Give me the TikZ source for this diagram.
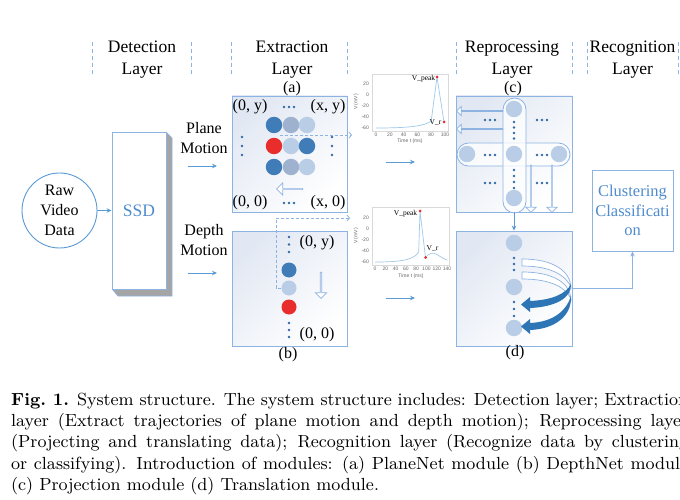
\documentclass[tikz,border=0pt]{standalone}
\usepackage{fontspec}
\usepackage{graphicx}
\newfontfamily\tnr{Liberation Serif}
\newfontfamily\plotf{Liberation Sans}
\usetikzlibrary{shapes.arrows,arrows.meta,shapes.misc}
\definecolor{lineblue}{RGB}{141,179,226}
\definecolor{arrblue}{RGB}{91,155,213}
\definecolor{txtblue}{RGB}{80,140,205}
\definecolor{darkc}{RGB}{64,124,184}
\definecolor{midc}{RGB}{158,177,207}
\definecolor{lightc}{RGB}{186,205,230}
\definecolor{redc}{RGB}{233,45,45}
\definecolor{dotc}{RGB}{50,105,165}
\definecolor{arcc}{RGB}{46,117,182}
\definecolor{shadowc}{RGB}{165,165,165}
\definecolor{boxfill}{RGB}{226,232,243}
\definecolor{plotc}{RGB}{160,200,232}
\newcommand\hdotsat[2]{\foreach \k in {-5,0,5}{\fill[dotc] (#1+\k,#2) circle (1.3);}}
\newcommand\vdotsat[2]{\foreach \yy in {#2}{\fill[dotc] (#1,\yy) circle (1.3);}}
\tikzset{
  hdr/.style={font=\tnr\fontsize{17.5}{22}\selectfont, align=center, inner sep=0},
  lbl/.style={font=\tnr\fontsize{16}{20}\selectfont, align=center, inner sep=0},
  sepline/.style={draw=lineblue, line width=0.8, dash pattern=on 4pt off 3pt},
  panel/.style={draw=lineblue, line width=0.9, top color=boxfill, bottom color=white, shading angle=45, inner sep=0},
  flow/.style={draw=arrblue, line width=0.8, -{Stealth[length=5pt,width=4.5pt]}},
  dflow/.style={draw=lineblue, line width=0.8, dash pattern=on 3pt off 2pt, -{Straight Barb[length=2.5pt,width=6pt]}},
  ball/.style={circle, minimum size=16.5, inner sep=0},
  hollow/.style={single arrow, draw=lineblue, fill=white, line width=0.7, inner sep=0, single arrow head indent=0},
  ptick/.style={font=\plotf\fontsize{5}{5}\selectfont, text=gray!80!black, inner sep=0},
  pframe/.style={draw=gray!30, line width=0.4, inner sep=0},
  plbl/.style={font=\tnr\fontsize{7.5}{8}\selectfont, inner sep=0},
  hband/.style={draw=lineblue, line width=0.7, fill=white},
  dband/.style={fill=arcc},
}
\begin{document}
\begin{tikzpicture}[x=1pt,y=-1pt]
\useasboundingbox (0,0) rectangle (680,500);
\fill[white] (0,0) rectangle (680,500);

% ---------- headers ----------
\foreach \xx in {92,191,231,347,456,572,587,678}{\draw[sepline] (\xx,42) -- (\xx,74);}
\node[hdr] (h1) at (142,59.5) {Detection\\Layer};
\node[hdr] (h2) at (292,59.5) {Extraction\\Layer};
\node[hdr] (h3) at (512,59.5) {Reprocessing\\Layer};
\node[hdr] (h4) at (632.5,59.5) {Recognition\\Layer};

% ---------- detection ----------
\node[circle, draw=arrblue, line width=0.9, minimum size=75, inner sep=0, lbl] (raw) at (59.5,210.5) {Raw\\Video\\Data};
\fill[shadowc] (166,132) -- (172,138) -- (172,296) -- (118,296) -- (112,289) -- (166,289) -- cycle;
\draw[lineblue, line width=0.6] (166,132) -- (172,138) -- (172,296) -- (118,296) -- (112,289);
\node[draw=lineblue, line width=0.9, fill=white, minimum width=54, minimum height=157, inner sep=0,
      font=\tnr\fontsize{17.5}{20}\selectfont, text=txtblue] (ssd) at (139,210.5) {SSD};
\draw[flow] (raw) -- (ssd);

\node[lbl] (pm) at (204,138) {Plane\\Motion};
\node[lbl] (dm) at (204,240.5) {Depth\\Motion};
\coordinate (pa1) at (188,166); \coordinate (pa2) at (217,166);
\coordinate (da1) at (188,273); \coordinate (da2) at (217,273);
\draw[flow] (pa1) -- (pa2);
\draw[flow] (da1) -- (da2);

% ---------- extraction (a) ----------
\node[panel, minimum width=115, minimum height=116] (boxa) at (289.5,154) {};
\node[lbl] (la) at (292,88.5) {(a)};
\node[lbl] (a00y) at (250,107) {(0, y)};
\node[lbl] (axy) at (328,107) {(x, y)};
\node[lbl] (a000) at (250,203) {(0, 0)};
\node[lbl] (ax0) at (328,203) {(x, 0)};
\hdotsat{289}{107}
\hdotsat{289}{203}
\vdotsat{242}{137,146,155}
\vdotsat{332}{137,146,155}
\coordinate (ds1) at (280,135);
\coordinate (de1) at (352,135);
\draw[dflow] (ds1) -- (de1);
\node[ball, fill=darkc] (a11) at (274,125) {};
\node[ball, fill=midc] (a12) at (291,125) {};
\node[ball, fill=lightc] (a13) at (307,125) {};
\node[ball, fill=redc] (a21) at (274,146) {};
\node[ball, fill=lightc] (a22) at (291,146) {};
\node[ball, fill=darkc] (a23) at (307,146) {};
\node[ball, fill=darkc] (a31) at (274,167) {};
\node[ball, fill=midc] (a32) at (291,167) {};
\node[ball, fill=lightc] (a33) at (307,167) {};
\node[hollow, minimum height=26, minimum width=12, single arrow head extend=3, shape border rotate=180] (aarr) at (290,189) {};

% ---------- extraction (b) ----------
\node[panel, minimum width=115, minimum height=115] (boxb) at (289.5,288.5) {};
\node[lbl] (lb) at (288,355) {(b)};
\vdotsat{289}{237,244.5,252}
\vdotsat{289}{323,330,337}
\node[lbl] (b0y) at (317,243) {(0, y)};
\node[lbl] (b00) at (317,335) {(0, 0)};
\node[ball, fill=darkc, minimum size=15] (b1) at (289,270) {};
\node[ball, fill=lightc, minimum size=15] (b2) at (289,288) {};
\node[ball, fill=redc, minimum size=15] (b3) at (289,307) {};
\node[hollow, minimum height=26, minimum width=11, single arrow head extend=2.5, shape border rotate=270] (barr) at (321,285) {};
\coordinate (de2) at (350,218);
\draw[dflow] (b2.west) -- (276,288) -- (276,218) -- (de2);

% ---------- spike plots ----------
\node[pframe, minimum width=76, minimum height=57] (p1) at (410,102.5) {};
\draw[plotc, line width=0.7] (376,128) .. controls (410,128) and (425,126) .. (431.2,121) -- (437,77) -- (444,122);
\fill[redc] (437,77) circle (1.5);
\fill[redc] (444,122) circle (1.5);
\foreach \v/\yy in {20/84,0/95,-20/106,-40/117,-60/128}{\node[ptick, anchor=east] at (369,\yy) {\v};}
\foreach \t in {0,20,...,100}{\node[ptick] at (376+0.69*\t,135) {\t};}
\node[ptick] (p1t) at (410,141) {Time t (ms)};
\node[ptick, rotate=90] (p1v) at (356,102) {V (mV)};
\node[plbl] (p1pk) at (423.5,79) {V\_peak};
\node[plbl] (p1r) at (435.5,123) {V\_r};

\node[pframe, minimum width=77, minimum height=58] (p2) at (410.5,236) {};
\draw[plotc, line width=0.7] (375,262) .. controls (405,262) and (414,259) .. (418.7,252) -- (420,211) -- (425.5,257.5)
   .. controls (429,253) and (433,252) .. (437,254.5) .. controls (441,257) and (444,259) .. (447,260);
\fill[redc] (420,211) circle (1.5);
\fill[redc] (425.5,257.5) circle (1.5);
\foreach \v/\yy in {20/218,0/229,-20/240,-40/251,-60/262}{\node[ptick, anchor=east] at (369,\yy) {\v};}
\foreach \t in {0,20,...,140}{\node[ptick] at (375+0.514*\t,269) {\t};}
\node[ptick] (p2t) at (411,276) {Time t (ms)};
\node[ptick, rotate=90] (p2v) at (356,236) {V (mV)};
\node[plbl] (p2pk) at (405.5,214) {V\_peak};
\node[plbl] (p2r) at (432.5,249) {V\_r};

\coordinate (q1) at (386,162); \coordinate (q2) at (415,162);
\coordinate (r1) at (386,298); \coordinate (r2) at (415,298);
\draw[flow] (q1) -- (q2);
\draw[flow] (r1) -- (r2);

% ---------- reprocessing (c) ----------
\node[panel, minimum width=116, minimum height=116] (boxc) at (514,154) {};
\node[lbl] (lc) at (513,88.5) {(c)};
\hdotsat{490}{120}
\hdotsat{542}{120}
\hdotsat{490}{183}
\hdotsat{542}{183}
\node[rounded rectangle, draw=lineblue, line width=0.8, fill=white, fill opacity=0.75, draw opacity=1, minimum width=113, minimum height=23, inner sep=0] (hpill) at (513.5,154.5) {};
\node[rounded rectangle, rotate=90, draw=lineblue, line width=0.8, fill=white, fill opacity=0.75, draw opacity=1, minimum width=115, minimum height=23, inner sep=0] (vpill) at (514.5,155.5) {};
\hdotsat{490}{155}
\hdotsat{542}{155}
\node[ball, fill=lightc] (c1) at (514,109) {};
\node[ball, fill=lightc] (c2) at (514,154) {};
\node[ball, fill=lightc] (c3) at (514,198) {};
\node[ball, fill=lightc] (c4) at (467,154) {};
\node[ball, fill=lightc] (c5) at (559,154) {};
\vdotsat{514}{122,127.5,133,138.5}
\vdotsat{514}{170,176,182,188}
\node[hollow, minimum height=46, minimum width=9, single arrow head extend=2.5, shape border rotate=180] (carr1) at (480,111) {};
\node[hollow, minimum height=46, minimum width=9, single arrow head extend=2.5, shape border rotate=180] (carr2) at (480,129) {};
\node[hollow, minimum height=47, minimum width=10, single arrow head extend=2.5, shape border rotate=270] (carr3) at (531,188.5) {};
\node[hollow, minimum height=47, minimum width=10, single arrow head extend=2.5, shape border rotate=270] (carr4) at (552,188.5) {};

% ---------- reprocessing (d) ----------
\node[panel, minimum width=116, minimum height=115] (boxd) at (514,288.5) {};
\node[lbl] (ld) at (515,353) {(d)};
\draw[flow] (boxc.south) -- (boxd.north);
\node[ball, fill=lightc] (d1) at (514,243) {};
\node[ball, fill=lightc] (d2) at (514,287) {};
\node[ball, fill=lightc] (d3) at (514,328) {};
\vdotsat{514}{258,264,270}
\vdotsat{514}{302,309,316}
% curved arrows (hollow upper half, filled lower half)
\path[hband] (522,272) .. controls (555,272) and (570,284) .. (571,299)
   .. controls (566,288) and (552,279) .. (522,279) -- cycle;
\path[dband] (571,296) .. controls (572,316) and (555,329) .. (530,330) -- (530,334) -- (521,326.5) -- (530,319) -- (530,323)
   .. controls (552,322) and (566,312) .. (571,296) -- cycle;
\path[hband] (522,259) .. controls (555,259) and (570,272) .. (571,287)
   .. controls (566,276) and (552,266) .. (522,266) -- cycle;
\path[dband] (571,284) .. controls (572,298) and (555,307) .. (530,308) -- (530,312) -- (521,304.5) -- (530,297) -- (530,301)
   .. controls (552,300) and (566,294) .. (571,284) -- cycle;

% ---------- recognition ----------
\node[draw=lineblue, line width=0.9, minimum width=81, minimum height=81, inner sep=0,
      font=\tnr\fontsize{16.5}{19.5}\selectfont, text=txtblue, align=center] (rec) at (632.5,210.5) {Clustering\\Classificati\\on};
\draw[flow, draw=lineblue] (boxd.east) -| (rec.south);

% ---------- caption ----------
\node[anchor=base west, inner sep=0] (cap) at (11,405) {\scalebox{1.95}{\parbox[t]{347.2pt}{\fontsize{9}{11}\selectfont
\textbf{Fig.~1.} System structure. The system structure includes: Detection layer; Extraction\linebreak
layer (Extract trajectories of plane motion and depth motion); Reprocessing layer\linebreak
(Projecting and translating data); Recognition layer (Recognize data by clustering\linebreak
or classifying). Introduction of modules: (a) PlaneNet module (b) DepthNet module\linebreak
(c) Projection module (d) Translation module.}}};
\end{tikzpicture}
\end{document}
